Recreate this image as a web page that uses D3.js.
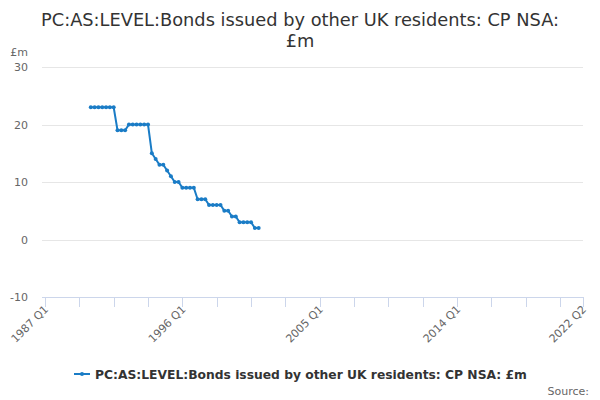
<!DOCTYPE html>
<html><head><meta charset="utf-8">
<script src="https://cdn.jsdelivr.net/npm/d3@7"></script>
<style>body{margin:0;background:#fff;}svg{display:block;font-family:"DejaVu Sans",sans-serif;}</style>
</head><body>
<svg id="c" width="600" height="400"></svg>
<script>
const titleLines = ["PC:AS:LEVEL:Bonds issued by other UK residents: CP NSA:", "£m"];
const seriesName = "PC:AS:LEVEL:Bonds issued by other UK residents: CP NSA: £m";
const unitLabel = "£m";
const axisStart = "1987 Q1";
const axisEnd = "2022 Q2";
const xTickLabels = ["1987 Q1", "1996 Q1", "2005 Q1", "2014 Q1", "2022 Q2"];
const yTicks = [-10, 0, 10, 20, 30];
const dataStart = "1990 Q1";
const values = [23,23,23,23,23,23,23,19,19,19,20,20,20,20,20,20,15,14,13,13,12,11,10,10,9,9,9,9,7,7,7,6,6,6,6,5,5,4,4,3,3,3,3,2,2];

(function(){
function qIndex(label){ const [yy,q]=label.split(" Q"); return (+yy)*4 + (+q-1); }
const base = qIndex(axisStart);
const endIdx = qIndex(axisEnd) - base;
const startIdx = qIndex(dataStart) - base;
const data = values.map((v,i)=>({i:startIdx+i, v}));

const svg = d3.select("#c");
const pL = 45, pR = 583, pT = 67, pB = 297;
const x = d3.scaleLinear().domain([0,endIdx]).range([pL,pR]);
const y = d3.scaleLinear().domain([-10,30]).range([pB,pT]);

svg.append("text").attr("x",300).attr("y",26).attr("text-anchor","middle")
  .attr("font-size",17.8).attr("fill","#333").text(titleLines[0]);
svg.append("text").attr("x",300).attr("y",47).attr("text-anchor","middle")
  .attr("font-size",17.8).attr("fill","#333").text(titleLines[1]);

svg.append("g").selectAll("line").data(yTicks.filter(t=>t>-10)).join("line")
  .attr("x1",pL-3).attr("x2",pR).attr("y1",d=>Math.round(y(d))+0.5).attr("y2",d=>Math.round(y(d))+0.5)
  .attr("stroke","#e6e6e6").attr("stroke-width",1);

svg.append("g").selectAll("text").data(yTicks).join("text")
  .attr("x",28).attr("y",d=>y(d)+4).attr("text-anchor","end")
  .attr("font-size",11).attr("fill","#666").text(d=>d);
svg.append("text").attr("x",28).attr("y",56).attr("text-anchor","end")
  .attr("font-size",11).attr("fill","#666").text(unitLabel);

svg.append("line").attr("x1",pL-3).attr("x2",pR+1).attr("y1",pB+0.5).attr("y2",pB+0.5)
  .attr("stroke","#ccd6eb");
const tickIdx = d3.range(0,endIdx,9).concat([endIdx]);
svg.append("g").selectAll("line").data(tickIdx).join("line")
  .attr("x1",d=>Math.round(x(d))+0.5).attr("x2",d=>Math.round(x(d))+0.5)
  .attr("y1",pB).attr("y2",pB+10).attr("stroke","#ccd6eb");
svg.append("g").selectAll("text").data(xTickLabels).join("text")
  .attr("transform",d=>`translate(${x(qIndex(d)-base)+4},${pB+13}) rotate(-45)`)
  .attr("text-anchor","end").attr("font-size",11).attr("fill","#666").text(d=>d);

const color = "#1a7cc6";
svg.append("path").datum(data)
  .attr("d",d3.line().x(d=>x(d.i)).y(d=>y(d.v)))
  .attr("fill","none").attr("stroke",color).attr("stroke-width",2);
svg.append("g").selectAll("circle").data(data).join("circle")
  .attr("cx",d=>x(d.i)).attr("cy",d=>y(d.v)).attr("r",2).attr("fill",color);

const lg = svg.append("g");
lg.append("line").attr("x1",74).attr("x2",90).attr("y1",374).attr("y2",374).attr("stroke",color).attr("stroke-width",2);
lg.append("circle").attr("cx",82).attr("cy",374).attr("r",2).attr("fill",color);
lg.append("text").attr("x",95).attr("y",378.5).attr("font-size",12.3).attr("font-weight","bold")
  .attr("fill","#333").text(seriesName);

svg.append("text").attr("x",589).attr("y",395).attr("text-anchor","end")
  .attr("font-size",11).attr("fill","#666").text("Source:");
})();
</script>
</body></html>
